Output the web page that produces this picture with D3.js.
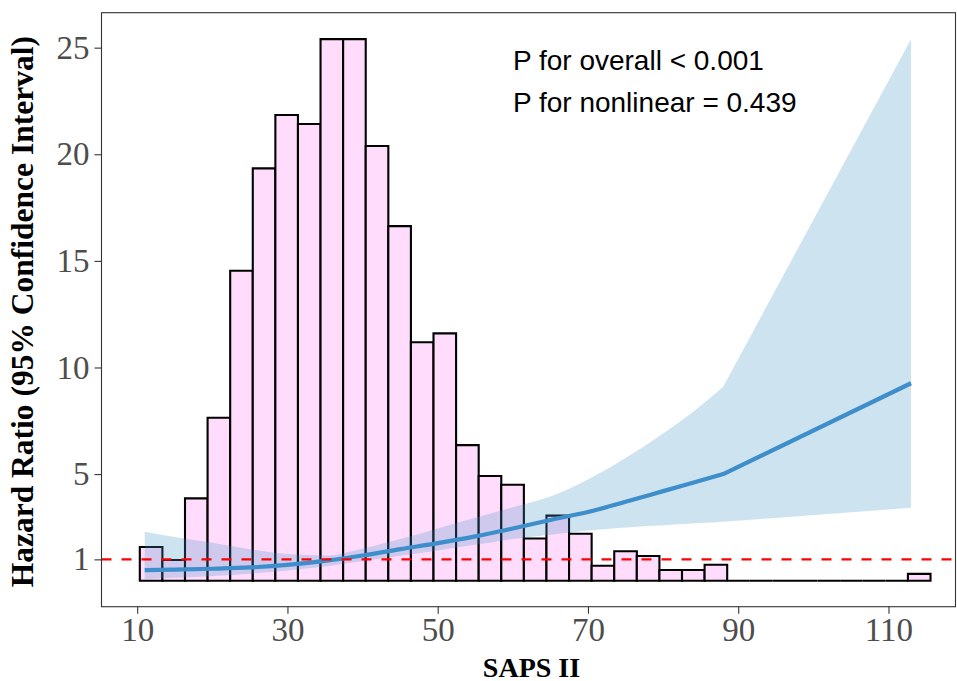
<!DOCTYPE html>
<html>
<head>
<meta charset="utf-8">
<script src="https://cdn.jsdelivr.net/npm/d3@7"></script>
<style>
  html, body { margin: 0; padding: 0; background: #ffffff; }
  svg { display: block; }
</style>
</head>
<body>
<svg id="chart" width="957" height="681"></svg>
<script>
// ---- data ----
const histBinStart = 10.35;
const histBinWidth = 3.007;
const histHeights = [1.58, 0.97, 3.86, 7.64, 14.54, 19.34, 21.84, 21.42, 25.4, 25.4,
                     20.39, 16.63, 11.18, 11.6, 6.36, 4.91, 4.5, 1.98, 3.05, 2.2,
                     0.7, 1.38, 1.16, 0.5, 0.5, 0.75, 0, 0, 0, 0, 0, 0, 0, 0, 0.32];

const curveX     = [11,   15,   20,   25,   30,   35,   40,   45,   50,   55,   60,   65,   70,   75,   80,   85,   88,   113];
const curveHR    = [0.50, 0.52, 0.56, 0.62, 0.74, 0.93, 1.18, 1.48, 1.76, 2.08, 2.45, 2.85, 3.22, 3.70, 4.20, 4.70, 5.00, 9.26];
const curveLower = [0.08, 0.14, 0.22, 0.33, 0.48, 0.66, 0.92, 1.17, 1.42, 1.68, 1.95, 2.15, 2.35, 2.50, 2.60, 2.70, 2.76, 3.42];
const curveUpper = [2.30, 2.05, 1.78, 1.48, 1.25, 1.18, 1.50, 1.95, 2.45, 2.95, 3.45, 3.95, 4.75, 5.75, 6.90, 8.20, 9.10, 25.4];
// prediction grid is sparse beyond the last knot: straight segment from here on
const lastKnot = 88;

const xTicks = [10, 30, 50, 70, 90, 110];
const yTicks = [1, 5, 10, 15, 20, 25];
const refHR = 1;
const annotations = ["P for overall < 0.001", "P for nonlinear = 0.439"];
const xTitle = "SAPS II";
const yTitle = "Hazard Ratio (95% Confidence Interval)";

// ---- layout ----
const panel = { left: 101.5, right: 955.5, top: 12.7, bottom: 606.7 };
const svg = d3.select("#chart");

const x = d3.scaleLinear().domain([5.25, 118.92]).range([panel.left, panel.right]);
const y = d3.scaleLinear().domain([-1.22, 26.64]).range([panel.bottom, panel.top]);

const g = svg.append("g");

// histogram bars (paths so zero-height bins still show their outline)
const bins = histHeights.map((h, i) => ({
  x0: histBinStart + i * histBinWidth,
  x1: histBinStart + (i + 1) * histBinWidth,
  h: h
}));
g.append("g").selectAll("path").data(bins).join("path")
  .attr("d", d => {
    const p = d3.path();
    p.moveTo(x(d.x0), y(0));
    p.lineTo(x(d.x0), y(d.h));
    p.lineTo(x(d.x1), y(d.h));
    p.lineTo(x(d.x1), y(0));
    p.closePath();
    return p.toString();
  })
  .attr("fill", "#FFDCFB")
  .attr("stroke", "#000000")
  .attr("stroke-width", 2.1)
  .attr("stroke-linejoin", "miter");

// curve points
const pts = curveX.map((v, i) => ({ x: v, hr: curveHR[i], lo: curveLower[i], hi: curveUpper[i] }));
const smoothPts = pts.filter(d => d.x <= lastKnot);
const tailPts = pts.filter(d => d.x >= lastKnot);

function smoothThenLinear(accY, fwd) {
  // smooth part through smoothPts, straight lines through tailPts
  const gen = d3.line().x(d => x(d.x)).y(accY).curve(d3.curveMonotoneX);
  const sm = fwd ? smoothPts : smoothPts.slice().reverse();
  const tl = fwd ? tailPts.slice(1) : tailPts.slice(0, -1).reverse();
  let dSmooth = gen(sm);
  let dTail = tl.map(d => `L${x(d.x)},${accY(d)}`).join("");
  return fwd ? dSmooth + dTail : dTail + dSmooth;
}

// confidence band: upper forward, lower backward
{
  const upperGen = d3.line().x(d => x(d.x)).y(d => y(d.hi)).curve(d3.curveMonotoneX);
  const lowerGen = d3.line().x(d => x(d.x)).y(d => y(d.lo)).curve(d3.curveMonotoneX);
  let dU = upperGen(smoothPts);
  tailPts.slice(1).forEach(d => { dU += `L${x(d.x)},${y(d.hi)}`; });
  let dL = "";
  tailPts.slice().reverse().forEach(d => { dL += `L${x(d.x)},${y(d.lo)}`; });
  const lowerRev = lowerGen(smoothPts.slice().reverse()).replace(/^M/, "L");
  g.append("path")
    .attr("d", dU + dL + lowerRev + "Z")
    .attr("fill", "#4292c6")
    .attr("fill-opacity", 0.26);
}

// HR line
g.append("path")
  .attr("d", smoothThenLinear(d => y(d.hr), true))
  .attr("fill", "none")
  .attr("stroke", "#3d8ecb")
  .attr("stroke-width", 4.2)
  .attr("stroke-linejoin", "round")
  .attr("stroke-linecap", "butt");

// reference line
g.append("line")
  .attr("x1", panel.left).attr("x2", panel.right)
  .attr("y1", y(refHR)).attr("y2", y(refHR))
  .attr("stroke", "#ff0000")
  .attr("stroke-width", 2.2)
  .attr("stroke-dasharray", "10,10");

// panel border
svg.append("rect")
  .attr("x", panel.left).attr("y", panel.top)
  .attr("width", panel.right - panel.left).attr("height", panel.bottom - panel.top)
  .attr("fill", "none").attr("stroke", "#333333").attr("stroke-width", 1.1);

// axes
const xAxis = d3.axisBottom(x).tickValues(xTicks).tickSize(7).tickPadding(4).tickFormat(d3.format("d"));
const xg = svg.append("g").attr("transform", `translate(0,${panel.bottom})`).call(xAxis);
xg.select(".domain").remove();
xg.selectAll(".tick line").attr("stroke", "#333333").attr("stroke-width", 1.1);
xg.selectAll(".tick text")
  .attr("fill", "#4d4d4d")
  .style("font-family", "'Liberation Serif', 'Times New Roman', serif")
  .style("font-size", "33px");

const yAxis = d3.axisLeft(y).tickValues(yTicks).tickSize(7).tickPadding(5).tickFormat(d3.format("d"));
const yg = svg.append("g").attr("transform", `translate(${panel.left},0)`).call(yAxis);
yg.select(".domain").remove();
yg.selectAll(".tick line").attr("stroke", "#333333").attr("stroke-width", 1.1);
yg.selectAll(".tick text")
  .attr("fill", "#4d4d4d")
  .style("font-family", "'Liberation Serif', 'Times New Roman', serif")
  .style("font-size", "33px");

// titles
svg.append("text")
  .attr("x", (panel.left + panel.right) / 2 + 3)
  .attr("y", 676.5)
  .attr("text-anchor", "middle")
  .style("font-family", "'Liberation Serif', 'Times New Roman', serif")
  .style("font-weight", "bold")
  .style("font-size", "28px")
  .attr("fill", "#000")
  .text(xTitle);

svg.append("text")
  .attr("transform", `translate(33,${(panel.top + panel.bottom) / 2 + 2}) rotate(-90)`)
  .attr("text-anchor", "middle")
  .style("font-family", "'Liberation Serif', 'Times New Roman', serif")
  .style("font-weight", "bold")
  .style("font-size", "31.5px")
  .attr("fill", "#000")
  .text(yTitle);

// annotations
annotations.forEach((t, i) => {
  svg.append("text")
    .attr("x", 513)
    .attr("y", 70 + i * 42)
    .style("font-family", "'Liberation Sans', Arial, sans-serif")
    .style("font-size", "28px")
    .attr("fill", "#000")
    .text(t);
});
</script>
</body>
</html>
